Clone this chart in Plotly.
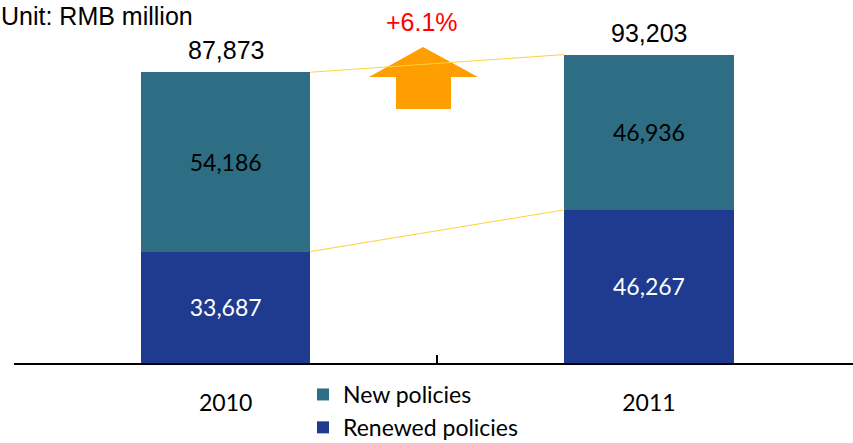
import plotly.graph_objects as go

# Premium breakdown, RMB million
years = ["2010", "2011"]
renewed = [33687, 46267]
new = [54186, 46936]
totals = [87873, 93203]

TEAL = "#2D6E84"
BLUE = "#1F3B8F"
ORANGE = "#FF9E00"
GOLD = "#FFD23C"

W, H = 853, 443
L, R, T, B = 14, 0, 0, 80
PW, PH = W - L - R, H - T - B
YMAX = 109700
BAR_W = 0.4


def px_x(p):
    return (p - L) / PW


def px_y(p):
    return (T + PH - p) / PH


fig = go.Figure()
fig.add_trace(go.Bar(
    x=years, y=renewed, name="Renewed policies", marker_color=BLUE,
    marker_line_width=0,
    width=BAR_W, texttemplate="%{y:,}", textposition="inside",
    insidetextanchor="middle", textangle=0,
    insidetextfont=dict(family="Lato", size=23, color="white"),
))
fig.add_trace(go.Bar(
    x=years, y=new, name="New policies", marker_color=TEAL,
    marker_line_width=0,
    width=BAR_W, texttemplate="%{y:,}", textposition="inside",
    insidetextanchor="middle", textangle=0,
    insidetextfont=dict(family="Lato", size=23, color="black"),
))

# totals above each stack
for i, t in enumerate(totals):
    fig.add_annotation(x=i, y=t, text=f"{t:,}", showarrow=False,
                       yanchor="bottom", yshift=6,
                       font=dict(family="Arial, Liberation Sans", size=25, color="black"))

# connector lines between the stacks
tops0 = [renewed[0], totals[0]]
tops1 = [renewed[1], totals[1]]
for a, b in zip(tops0, tops1):
    fig.add_shape(type="line", xref="x", yref="y",
                  x0=0 + BAR_W / 2, y0=a, x1=1 - BAR_W / 2, y1=b,
                  line=dict(color=GOLD, width=1), layer="above")

# growth arrow
growth = (totals[1] / totals[0] - 1) * 100
pts = [(423, 47), (478, 77), (451, 77), (451, 109), (396, 109), (396, 77), (369, 77)]
path = "M " + " L ".join(f"{px_x(x):.4f},{px_y(y):.4f}" for x, y in pts) + " Z"
fig.add_shape(type="path", xref="paper", yref="paper", path=path,
              fillcolor=ORANGE, line=dict(width=0), layer="below")
fig.add_annotation(xref="paper", yref="paper", x=px_x(422), y=px_y(22),
                   text=f"+{growth:.1f}%", showarrow=False,
                   xanchor="center", yanchor="middle",
                   font=dict(family="Arial, Liberation Sans", size=25, color="#FF0000"))

fig.add_annotation(xref="paper", yref="paper", x=px_x(-1), y=px_y(0),
                   text="Unit: RMB million", showarrow=False,
                   xanchor="left", yanchor="top",
                   font=dict(family="Arial, Liberation Sans", size=25, color="black"))

fig.update_layout(
    width=W, height=H,
    margin=dict(l=L, r=R, t=T, b=B, autoexpand=False),
    barmode="stack",
    plot_bgcolor="white", paper_bgcolor="white",
    showlegend=True,
    legend=dict(xref="container", yref="container",
                x=303 / W, y=(H - 373) / H, xanchor="left", yanchor="top",
                traceorder="reversed", bgcolor="rgba(0,0,0,0)",
                font=dict(family="Lato", size=23, color="black"),
                itemwidth=30, tracegroupgap=0),
    xaxis=dict(type="category", range=[-0.5, 1.482], automargin=False,
               tickson="boundaries", ticks="inside", ticklen=8, tickwidth=2,
               tickcolor="black", showline=True, linewidth=2, linecolor="black",
               showgrid=False, ticklabelstandoff=18,
               tickfont=dict(family="Lato", size=23, color="black")),
    yaxis=dict(visible=False, range=[0, YMAX], showgrid=False, zeroline=False),
)

fig.write_html("out.html")
